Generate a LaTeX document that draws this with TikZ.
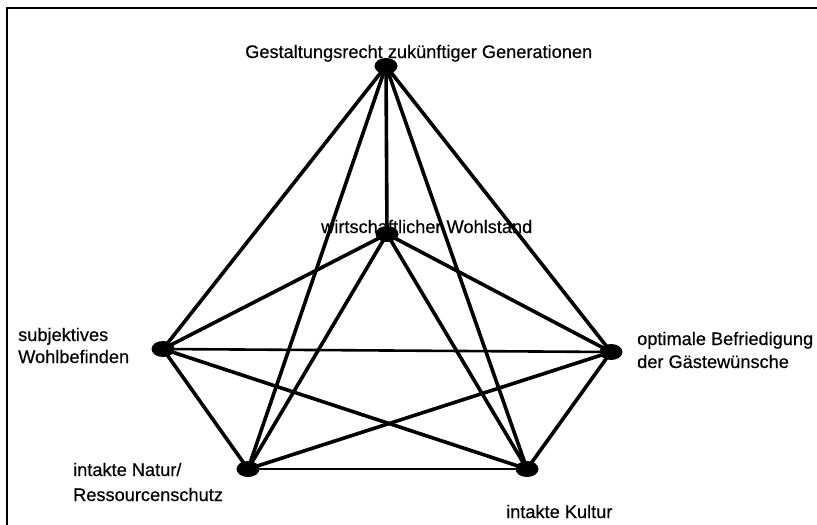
\documentclass[tikz,border=0pt]{standalone}
\usepackage{fontspec}
\setmainfont{Liberation Sans}
\newfontfamily\lblfont{Liberation Sans}[FakeBold=0.4]
\usetikzlibrary{shapes.geometric}
\begin{document}
\begin{tikzpicture}[x=1pt,y=-1pt,
  dot/.style={ellipse,fill=black,minimum width=23pt,minimum height=16pt,inner sep=0pt},
  edge/.style={line width=3.6pt},
  thinedge/.style={line width=2.6pt},
  lbl/.style={font=\lblfont\fontsize{18.2}{22}\selectfont,inner sep=0pt,anchor=base west},
]
\useasboundingbox (0,0) rectangle (817,525);
\draw[line width=2.4pt] (7,530) -- (7,8) -- (830,8);
% nodes
\node[dot] (G) at (386,66) {};
\node[dot] (W) at (387,234) {};
\node[dot] (S) at (163,349) {};
\node[dot] (O) at (611,352) {};
\node[dot] (N) at (248,469) {};
\node[dot] (K) at (527,469) {};
% edges
\draw[edge] (G.center) -- (S.center);
\draw[edge] (G.center) -- (N.center);
\draw[edge] (G.center) -- (W.center);
\draw[edge] (G.center) -- (K.center);
\draw[edge] (G.center) -- (O.center);
\draw[edge] (W.center) -- (S.center);
\draw[edge] (W.center) -- (N.center);
\draw[edge] (W.center) -- (K.center);
\draw[edge] (W.center) -- (O.center);
\draw[thinedge] (S.center) -- (O.center);
\draw[edge] (S.center) -- (N.center);
\draw[edge] (S.center) -- (K.center);
\draw[edge] (N.center) -- (O.center);
\draw[edge] (K.center) -- (O.center);
\draw[thinedge] (N.center) -- (K.center);
% labels
\node[lbl] (tG) at (245,58) {Gestaltungsrecht zukünftiger Generationen};
\node[lbl] (tW) at (321,233) {wirtschaftlicher Wohlstand};
\node[lbl] (tS1) at (18,341) {subjektives};
\node[lbl] (tS2) at (18,363) {Wohlbefinden};
\node[lbl] (tO1) at (637,345) {optimale Befriedigung};
\node[lbl] (tO2) at (637,368) {der Gästewünsche};
\node[lbl] (tN1) at (73,476) {intakte Natur/};
\node[lbl] (tN2) at (73,501) {Ressourcenschutz};
\node[lbl] (tK) at (506,518) {intakte Kultur};
\end{tikzpicture}
\end{document}
